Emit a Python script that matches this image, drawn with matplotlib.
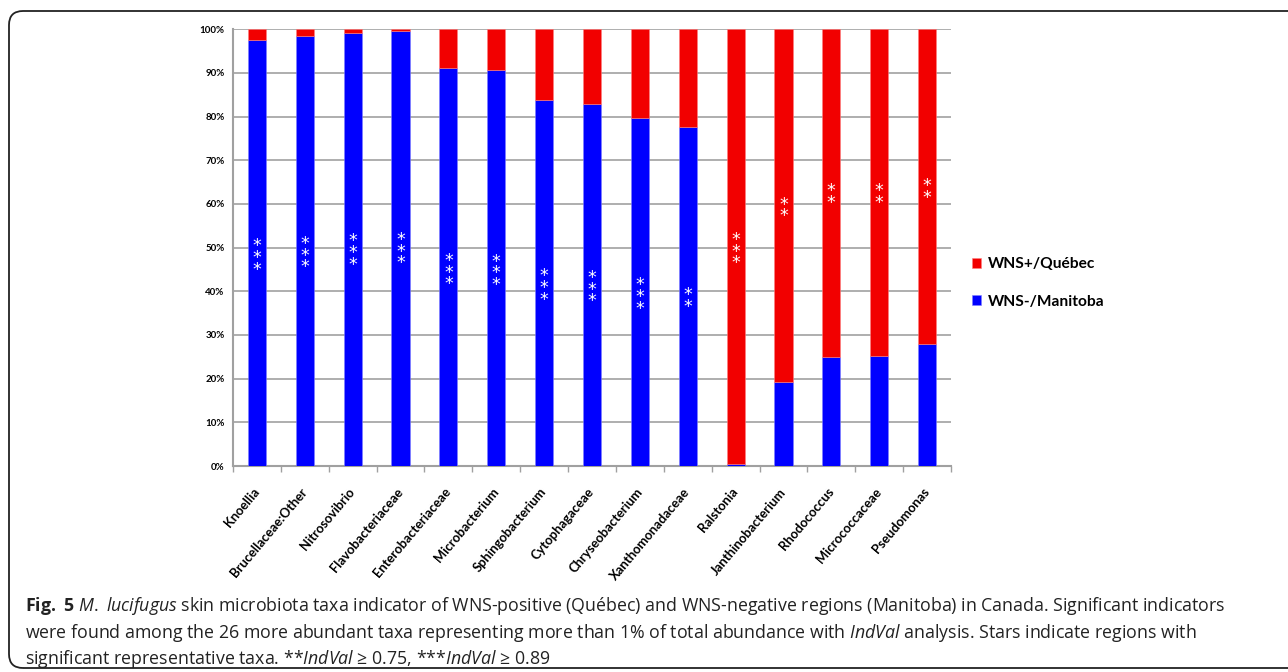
import matplotlib.pyplot as plt
from matplotlib.patches import FancyBboxPatch
from matplotlib.ticker import PercentFormatter, FixedLocator
import numpy as np

plt.rcParams['font.family'] = ['Lato', 'DejaVu Sans']
plt.rcParams['mathtext.fontset'] = 'custom'
plt.rcParams['mathtext.rm'] = 'Open Sans'
plt.rcParams['mathtext.it'] = 'Open Sans:italic'
plt.rcParams['mathtext.bf'] = 'Open Sans:bold'

taxa = ['Knoellia', 'Brucellaceae:Other', 'Nitrosovibrio', 'Flavobacteriaceae',
        'Enterobacteriaceae', 'Microbacterium', 'Sphingobacterium', 'Cytophagaceae',
        'Chryseobacterium', 'Xanthomonadaceae', 'Ralstonia', 'Janthinobacterium',
        'Rhodococcus', 'Micrococcaceae', 'Pseudomonas']
# share of each taxon from Manitoba (WNS-), in percent; Quebec is the rest
manitoba = [97.6, 98.5, 99.2, 99.7, 91.1, 90.7, 83.8, 82.9, 79.7, 77.7,
            0.4, 19.2, 24.9, 25.2, 27.9]
quebec = [100 - v for v in manitoba]
# IndVal stars per taxon and where the star column sits (percent)
stars = [3, 3, 3, 3, 3, 3, 3, 3, 3, 2, 3, 2, 2, 2, 2]
star_y = [48.8, 49.4, 49.9, 50.3, 45.5, 45.3, 42.0, 41.6, 39.9, 38.9,
          50.3, 59.7, 62.8, 62.8, 63.9]

blue = '#0000ff'
red = '#f20000'

fig = plt.figure(figsize=(12.88, 6.72), dpi=100)
ax = fig.add_axes([233/1288, 1 - 466/672, (951 - 233)/1288, (466 - 29.3)/672])

x = np.arange(len(taxa))
ax.bar(x, manitoba, width=0.38, color=blue, edgecolor='#8080ff', linewidth=0.4,
       label='WNS-/Manitoba', zorder=3)
ax.bar(x, quebec, width=0.38, bottom=manitoba, color=red, edgecolor='#ff8080',
       linewidth=0.4, label='WNS+/Québec', zorder=3)

# white asterisks stacked inside each bar, one text per bar
for i in range(len(taxa)):
    ax.text(x[i], star_y[i] - 1.2, '\n'.join('*' * stars[i]), ha='center', va='center',
            color='white', fontsize=12.5, family='DejaVu Sans', linespacing=0.56, zorder=4)

ax.set_xlim(-0.5, len(taxa) - 0.5)
ax.set_ylim(0, 100)
ax.set_yticks(np.arange(0, 101, 10))
ax.yaxis.set_major_formatter(PercentFormatter(decimals=0))
ax.tick_params(axis='y', length=0, pad=6, labelsize=7)
for lab in ax.get_yticklabels():
    lab.set_fontweight('bold')
ax.yaxis.grid(True, color='#a8a8a8', linewidth=1.3, zorder=0)

ax.set_xticks(x)
ax.set_xticklabels(taxa, rotation=50, ha='right', va='center', rotation_mode='anchor',
                   fontsize=9.4, fontweight='bold')
ax.tick_params(axis='x', which='major', length=0, pad=17)
ax.xaxis.set_minor_locator(FixedLocator(np.arange(-0.5, len(taxa), 1)))
ax.tick_params(axis='x', which='minor', length=4, width=1, color='#a0a0a0')

for s in ['top', 'right']:
    ax.spines[s].set_visible(False)
for s in ['left', 'bottom']:
    ax.spines[s].set_color('#a0a0a0')
    ax.spines[s].set_linewidth(1.5)

h, l = ax.get_legend_handles_labels()
leg = fig.legend(h[::-1], l[::-1], loc='center left', bbox_to_anchor=(958/1288, 1 - 283/672),
                 frameon=False, handlelength=0.6, handleheight=0.6,
                 handletextpad=0.45, labelspacing=1.5, prop={'weight': 'bold', 'size': 11.2})

# rounded frame around the figure
frame = FancyBboxPatch((0.09, 0.04), 13.5, 6.57, boxstyle='round,pad=0,rounding_size=0.14',
                       transform=fig.dpi_scale_trans, facecolor='none',
                       edgecolor='#222222', linewidth=1.3)
fig.patches.append(frame)

cap = [r'$\mathbf{Fig.\ 5}$ $\mathit{M.\ lucifugus}$ skin microbiota taxa indicator of WNS-positive '
       r'(Québec) and WNS-negative regions (Manitoba) in Canada. Significant indicators',
       r'were found among the 26 more abundant taxa representing more than 1% of total abundance '
       r'with $\mathit{IndVal}$ analysis. Stars indicate regions with',
       r'significant representative taxa. **$\mathit{IndVal}$ ≥ 0.75, ***$\mathit{IndVal}$ ≥ 0.89']
for j, line in enumerate(cap):
    fig.text(25/1288, 1 - (611 + 26.7*j)/672, line, fontsize=12.8, family='Open Sans',
             color='#222222', va='baseline', ha='left')

fig.savefig('out.png', dpi=100)
